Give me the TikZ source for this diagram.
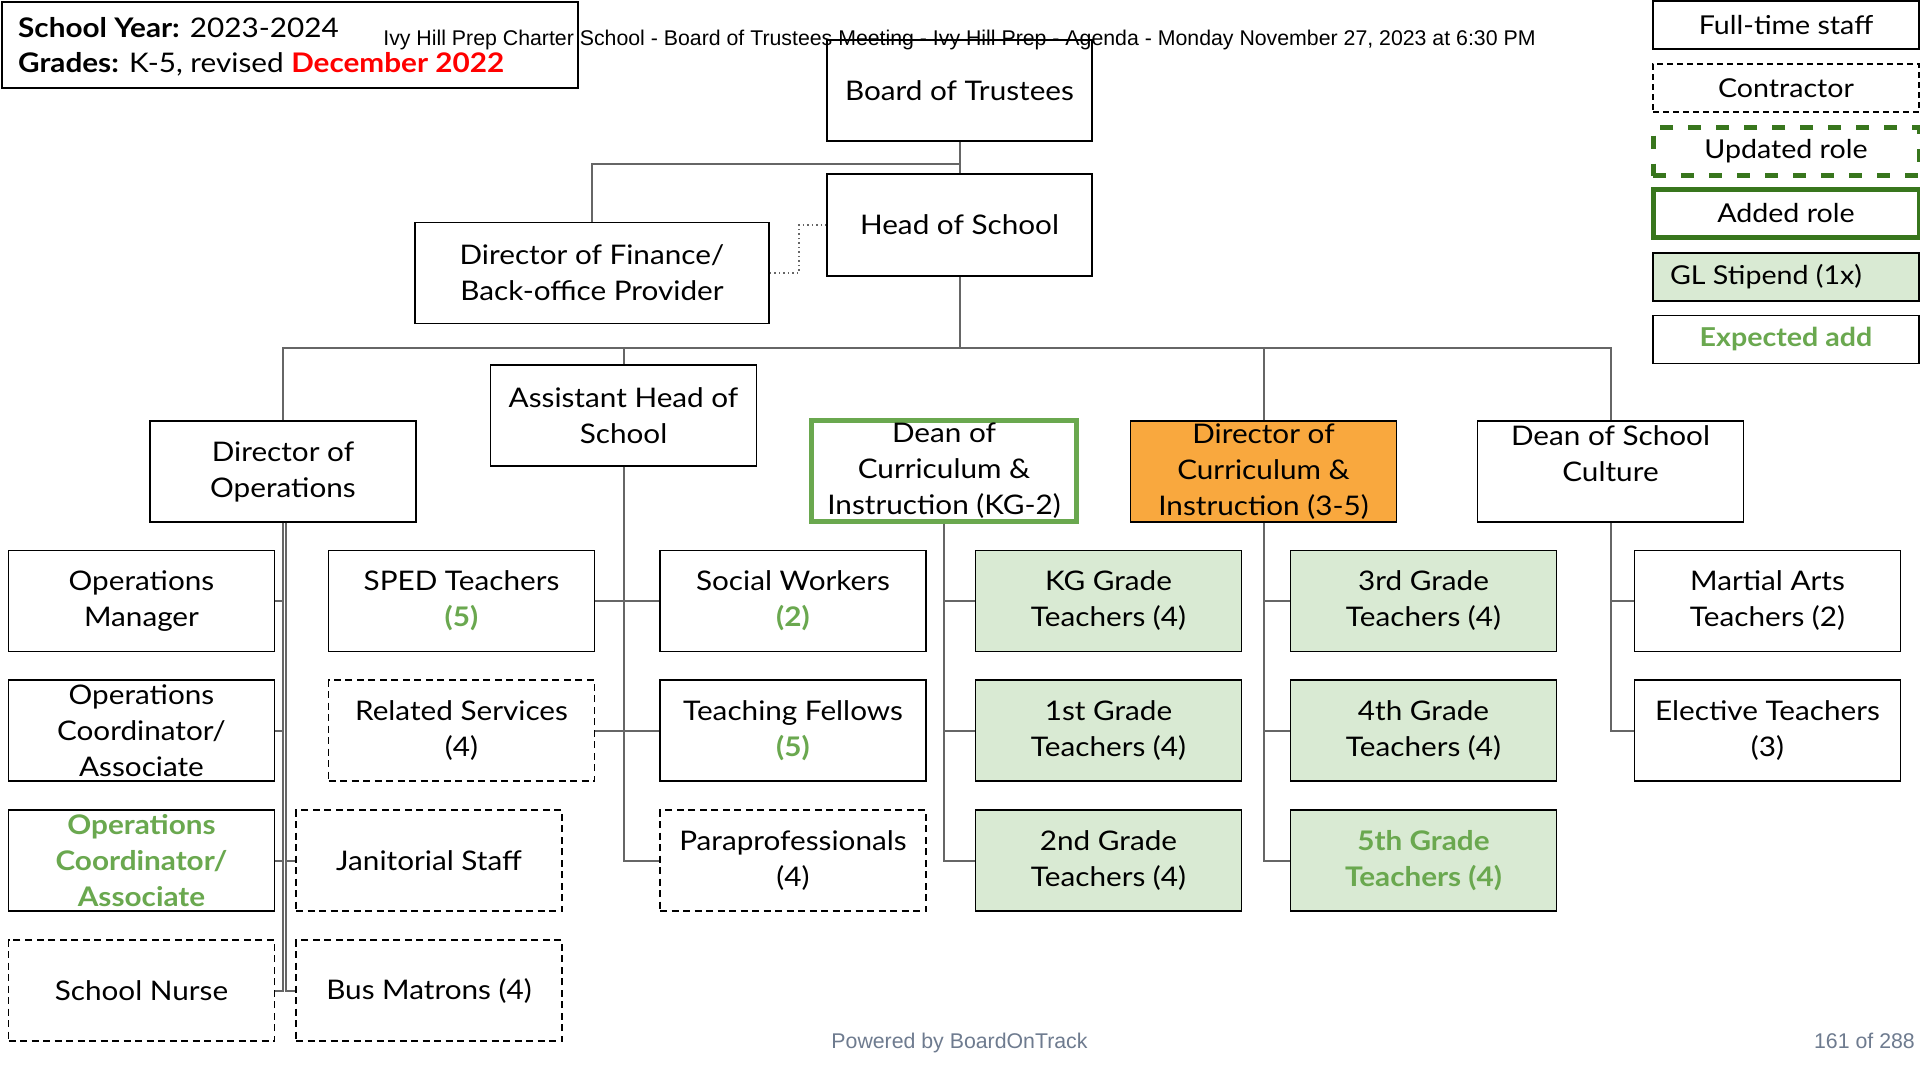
\documentclass[tikz,border=0pt]{standalone}
\usepackage{fontspec}
\setmainfont{Lato}[FakeStretch=1.1]
\newfontfamily\narrowfont{Liberation Sans}
\definecolor{linegray}{HTML}{666666}
\definecolor{gtext}{HTML}{6AA84F}
\definecolor{dkgreen}{HTML}{38761D}
\definecolor{glfill}{HTML}{D9EAD3}
\definecolor{orangefill}{HTML}{F9A83E}
\definecolor{footgray}{HTML}{6E7B8F}
\begin{document}
\begin{tikzpicture}[x=1pt,y=-1pt,
  role/.style={draw=black, line width=1.6pt, align=center, inner sep=0pt,
    minimum width=266pt, minimum height=101pt, fill=white,
    font=\fontsize{27}{36}\selectfont},
  contractor/.style={role, dash pattern=on 7pt off 4.5pt},
  grade/.style={role, fill=glfill},
  legend/.style={draw=black, line width=1.6pt, inner sep=0pt,
    minimum width=266pt, minimum height=48pt, fill=white,
    font=\fontsize{26}{28}\selectfont},
  link/.style={draw=linegray, line width=2pt},
  aside/.style={draw=linegray, line width=1.5pt, dash pattern=on 1.5pt off 3pt},
  plain/.style={inner sep=0pt}]

\fill[white] (0,0) rectangle (1920,1080);
\useasboundingbox (0,0) rectangle (1920,1080);

% header block
\node[draw=black, line width=1.6pt, minimum width=576pt, minimum height=86pt,
  anchor=north west, inner sep=0pt] (hdr) at (1,1) {};
\node[plain, anchor=base west, font=\fontsize{27}{30}\selectfont] (year) at (18,37)
  {\textbf{School Year:} 2023-2024};
\node[plain, anchor=base west, font=\fontsize{27}{30}\selectfont] (grades) at (18,72)
  {\textbf{Grades:} K-5, revised \textcolor{red}{\textbf{December 2022}}};

% top of the chart
\node[role, minimum width=265pt] (bot) at (959.5,90.5) {Board of Trustees};
\node[role, minimum width=265pt, minimum height=102pt] (hos) at (959.5,225) {Head of School};
\node[role, minimum width=354pt] (fin) at (592,273) {Director of Finance/\\Back-office Provider};

% second level
\node[role] (dirops) at (283,471.5) {Director of\\Operations};
\node[role] (asst) at (623.5,415.5) {Assistant Head of\\School};
\node[role, draw=gtext, line width=4.5pt, minimum width=265pt, minimum height=101pt] (kg2)
  at (944,471) {Dean of\\Curriculum \&\\Instruction (KG-2)};
\node[role, fill=orangefill] (dir35) at (1263.5,471.5) {Director of\\Curriculum \&\\Instruction (3-5)};
\node[role] (cult) at (1610.5,471.5) {Dean of School\\Culture\\\mbox{}};

% operations staff
\node[role] (opsmgr) at (141.5,601) {Operations\\Manager};
\node[role] (opscoord) at (141.5,730.5) {Operations\\Coordinator/\\Associate};
\node[role, text=gtext, font=\fontsize{27}{36}\selectfont\bfseries] (opscoordnew) at (141.5,860.5)
  {Operations\\Coordinator/\\Associate};
\node[contractor] (nurse) at (141.5,990.5) {School Nurse};
\node[contractor] (janitor) at (429,860.5) {Janitorial Staff};
\node[contractor] (matrons) at (429,990.5) {Bus Matrons (4)};

% student support
\node[role] (sped) at (461.5,601) {SPED Teachers\\\textcolor{gtext}{\bfseries(5)}};
\node[contractor] (related) at (461.5,730.5) {Related Services\\(4)};
\node[role] (social) at (793,601) {Social Workers\\\textcolor{gtext}{\bfseries(2)}};
\node[role] (fellows) at (793,730.5) {Teaching Fellows\\\textcolor{gtext}{\bfseries(5)}};
\node[contractor] (para) at (793,860.5) {Paraprofessionals\\(4)};

% grade teams
\node[grade] (gkg) at (1108.5,601) {KG Grade\\Teachers (4)};
\node[grade] (g1) at (1108.5,730.5) {1st Grade\\Teachers (4)};
\node[grade] (g2) at (1108.5,860.5) {2nd Grade\\Teachers (4)};
\node[grade] (g3) at (1423.5,601) {3rd Grade\\Teachers (4)};
\node[grade] (g4) at (1423.5,730.5) {4th Grade\\Teachers (4)};
\node[grade, text=gtext, font=\fontsize{27}{36}\selectfont\bfseries] (g5) at (1423.5,860.5)
  {5th Grade\\Teachers (4)};

% school culture
\node[role] (martial) at (1767.5,601) {Martial Arts\\Teachers (2)};
\node[role] (elective) at (1767.5,730.5) {Elective Teachers\\(3)};

% reporting lines
\coordinate (bus) at (959.5,348);
\draw[link] (bot.south) -- (hos.north);
\draw[link] (bot.south) -- ++(0,22) -| (fin.north);
\draw[aside] (fin.east) -- ++(29,0) |- (hos.west);
\draw[link] (hos.south) -- (bus) -| (dirops.north);
\draw[link] (bus) -| (asst.north);
\draw[link] (bus) -| (dir35.north);
\draw[link] (bus) -| (cult.north);

\draw[link] (dirops.south) |- (opsmgr.east);
\draw[link] (dirops.south) |- (opscoord.east);
\draw[link] (dirops.south) |- (opscoordnew.east);
\draw[link] (dirops.south) |- (nurse.east);
\draw[link] ([xshift=3pt]dirops.south) |- (janitor.west);
\draw[link] ([xshift=3pt]dirops.south) |- (matrons.west);

\draw[link] (asst.south) |- (sped.east);
\draw[link] (asst.south) |- (related.east);
\draw[link] (asst.south) |- (social.west);
\draw[link] (asst.south) |- (fellows.west);
\draw[link] (asst.south) |- (para.west);

\draw[link] (kg2.south) |- (gkg.west);
\draw[link] (kg2.south) |- (g1.west);
\draw[link] (kg2.south) |- (g2.west);

\draw[link] (dir35.south) |- (g3.west);
\draw[link] (dir35.south) |- (g4.west);
\draw[link] (dir35.south) |- (g5.west);

\draw[link] (cult.south) |- (martial.west);
\draw[link] (cult.south) |- (elective.west);

% legend
\node[legend] (lfull) at (1786,25) {Full-time staff};
\node[legend, dash pattern=on 6pt off 4pt] (lcon) at (1786,88) {Contractor};
\node[legend, draw=dkgreen, line width=5pt, dash pattern=on 13pt off 15pt] (lupd) at (1786,151.5) {Updated role};
\node[legend, draw=dkgreen, line width=5pt] (ladd) at (1786,213) {Added role};
\node[legend, fill=glfill] (lgl) at (1786,277) {\hspace*{-40pt}GL Stipend (1x)};
\node[legend, text=gtext, font=\fontsize{26}{28}\selectfont\bfseries] (lexp) at (1786,339.5) {Expected add};

% page title and footer
\node[plain, anchor=base, font=\narrowfont\fontsize{21.3}{24}\selectfont] (title) at (959.5,45)
  {Ivy Hill Prep Charter School - Board of Trustees Meeting - Ivy Hill Prep - Agenda - Monday November 27, 2023 at 6:30 PM};
\node[plain, anchor=base, text=footgray, font=\narrowfont\fontsize{21.3}{24}\selectfont] (powered) at (959.5,1048)
  {Powered by BoardOnTrack};
\node[plain, anchor=base east, text=footgray, font=\narrowfont\fontsize{21.3}{24}\selectfont] (pageno) at (1915,1048)
  {161 of 288};
\end{tikzpicture}
\end{document}
